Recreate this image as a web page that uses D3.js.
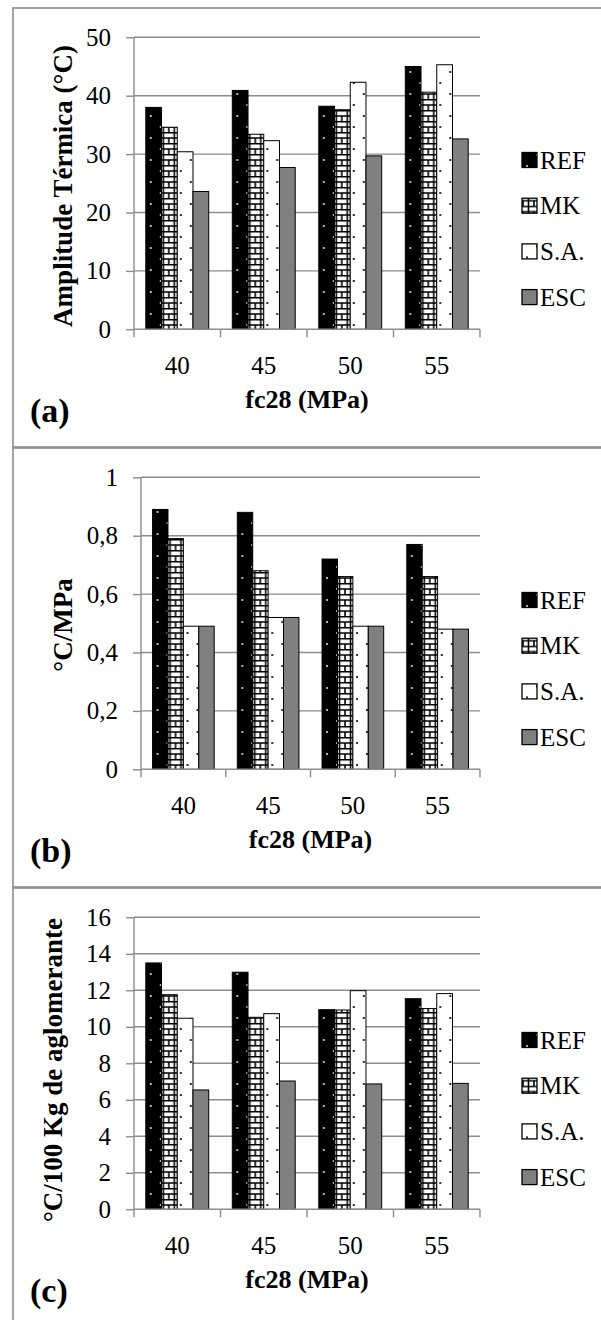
<!DOCTYPE html>
<html>
<head>
<meta charset="utf-8">
<title>Amplitude térmica</title>
<script src="https://d3js.org/d3.v7.min.js"></script>
<style>
body {
	margin: 0;
	background-color: white;
}
svg {
	display: block;
	font-family: "Liberation Serif", "Times New Roman", serif;
}
.grid line, .axis path, .axis line {
	stroke: #8c8c8c;
	stroke-width: 1.4;
}
.bar {
	stroke: #000;
	stroke-width: 1;
}
.title {
	font-weight: bold;
	fill: #000;
}
.frame {
	fill: none;
	stroke: #8c8c8c;
	stroke-width: 1.6;
}
</style>
</head>
<body>
<script>
// values
const categories = ["40", "45", "50", "55"];
const series = ["REF", "MK", "S.A.", "ESC"];

const amplitude = [
	[38.0, 34.6, 30.4, 23.6],
	[40.9, 33.4, 32.3, 27.7],
	[38.2, 37.6, 42.3, 29.7],
	[45.0, 40.6, 45.3, 32.6],
];
const perMPa = [
	[0.89, 0.79, 0.49, 0.49],
	[0.88, 0.68, 0.52, 0.52],
	[0.72, 0.66, 0.49, 0.49],
	[0.77, 0.66, 0.48, 0.48],
];
const perBinder = [
	[13.5, 11.76, 10.47, 6.54],
	[12.99, 10.52, 10.72, 7.03],
	[10.94, 10.92, 11.98, 6.87],
	[11.54, 11.0, 11.82, 6.9],
];

const ticksA = [0, 10, 20, 30, 40, 50];
const ticksB = [0, 0.2, 0.4, 0.6, 0.8, 1];
const ticksC = [0, 2, 4, 6, 8, 10, 12, 14, 16];

const fills = ["url(#refPat)", "url(#mkPat)", "url(#saPat)", "url(#escPat)"];
const serif = "'Liberation Serif', 'Times New Roman', serif";

const svg = d3.select("body").append("svg")
	.attr("width", 601)
	.attr("height", 1320);

const defs = svg.append("defs");

function dotPattern(id, bg, dot)
{
	const p = defs.append("pattern")
		.attr("id", id)
		.attr("patternUnits", "userSpaceOnUse")
		.attr("width", 20)
		.attr("height", 22);
	p.append("rect").attr("width", 20).attr("height", 22).attr("fill", bg);
	p.append("circle").attr("cx", 5).attr("cy", 6).attr("r", 1.1).attr("fill", dot);
	p.append("circle").attr("cx", 15).attr("cy", 17).attr("r", 1.1).attr("fill", dot);
}
dotPattern("refPat", "#000", "#ddd");
dotPattern("saPat", "#fff", "#000");

const mk = defs.append("pattern")
	.attr("id", "mkPat")
	.attr("patternUnits", "userSpaceOnUse")
	.attr("width", 11)
	.attr("height", 11);
mk.append("rect").attr("width", 11).attr("height", 11).attr("fill", "#fff");
mk.append("path")
	.attr("d", "M0,0.8H11M0,6H11M1,6V11M6.5,0V11")
	.attr("stroke", "#000")
	.attr("stroke-width", 1.6);

const esc = defs.append("pattern")
	.attr("id", "escPat")
	.attr("patternUnits", "userSpaceOnUse")
	.attr("width", 10)
	.attr("height", 10);
esc.append("rect").attr("width", 10).attr("height", 10).attr("fill", "#808080");

function styleTicks(s)
{
	s.attr("font-family", null).attr("font-size", null);
	s.selectAll("text")
		.style("font-family", serif)
		.style("font-size", "25px")
		.style("fill", "#000");
}

function drawPanel(oy, opt)
{
	const g = svg.append("g").attr("transform", "translate(0," + oy + ")");

	g.append("rect")
		.attr("class", "frame")
		.attr("x", 13)
		.attr("y", 8)
		.attr("width", 620)
		.attr("height", 439);

	const left = opt.left, right = 480, top = 37.3, bottom = 329.3;

	const x0 = d3.scaleBand()
		.domain(categories)
		.range([left, right])
		.paddingInner(0.2727)
		.paddingOuter(0.1364);
	const x1 = d3.scaleBand()
		.domain(series)
		.range([0, x0.bandwidth()]);
	const y = d3.scaleLinear()
		.domain([0, d3.max(opt.ticks)])
		.range([bottom, top]);

	// gridlines
	g.append("g")
		.attr("class", "grid")
		.selectAll("line")
		.data(opt.ticks.slice(1))
		.join("line")
		.attr("x1", left)
		.attr("x2", right)
		.attr("y1", d => y(d))
		.attr("y2", d => y(d));

	const yAxis = d3.axisLeft(y)
		.tickValues(opt.ticks)
		.tickSize(8)
		.tickPadding(15)
		.tickFormat(opt.format);
	g.append("g")
		.attr("class", "axis")
		.attr("transform", "translate(" + left + ",0)")
		.call(yAxis)
		.call(styleTicks)
		.call(s => s.select(".domain").attr("d", "M0," + top + "V" + bottom));

	// bars
	g.append("g")
		.selectAll("g")
		.data(opt.values)
		.join("g")
		.attr("transform", (d, i) => "translate(" + x0(categories[i]) + ",0)")
		.selectAll("rect")
		.data(d => d)
		.join("rect")
		.attr("class", "bar")
		.attr("x", (d, j) => x1(series[j]))
		.attr("width", x1.bandwidth())
		.attr("y", d => y(d))
		.attr("height", d => y(0) - y(d))
		.attr("fill", (d, j) => fills[j]);

	// x axis: labels centred, ticks on category boundaries
	const xAxis = d3.axisBottom(x0).tickSize(0).tickPadding(27);
	g.append("g")
		.attr("class", "axis")
		.attr("transform", "translate(0," + bottom + ")")
		.call(xAxis)
		.call(styleTicks)
		.call(s => s.select(".domain").attr("d", "M" + left + ",0H" + right));

	const half = (x0.step() - x0.bandwidth()) / 2;
	const bounds = categories.map(c => x0(c) - half).concat([x0(categories[3]) + x0.bandwidth() + half]);
	g.append("g")
		.attr("class", "axis")
		.selectAll("line")
		.data(bounds)
		.join("line")
		.attr("x1", d => d)
		.attr("x2", d => d)
		.attr("y1", bottom)
		.attr("y2", bottom + 8);

	// axis titles
	g.append("text")
		.attr("class", "title")
		.attr("transform", "translate(" + opt.titleX + "," + opt.titleY + ") rotate(-90)")
		.attr("text-anchor", "middle")
		.attr("dy", "0.35em")
		.style("font-size", "27px")
		.text(opt.title);
	g.append("text")
		.attr("class", "title")
		.attr("x", (left + right) / 2)
		.attr("y", 408)
		.attr("text-anchor", "middle")
		.style("font-size", "26px")
		.text("fc28 (MPa)");
	g.append("text")
		.attr("class", "title")
		.attr("x", 30)
		.attr("y", 422)
		.style("font-size", "34px")
		.text(opt.tag);

	// legend
	const legend = g.append("g")
		.selectAll("g")
		.data(series)
		.join("g")
		.attr("transform", (d, i) => "translate(522," + (160 + i * 45.7) + ")");
	legend.append("rect")
		.attr("x", 0)
		.attr("y", -7.5)
		.attr("width", 15)
		.attr("height", 15)
		.attr("fill", (d, i) => fills[i])
		.attr("stroke", "#000")
		.attr("stroke-width", 1.3);
	legend.append("text")
		.attr("x", 18)
		.attr("dy", "0.35em")
		.style("font-family", serif)
		.style("font-size", "25px")
		.text(d => d);
}

const comma = d => String(d).replace(".", ",");

drawPanel(0, {values: amplitude, ticks: ticksA, format: d3.format("d"), left: 134,
	title: "Amplitude Térmica (°C)", titleX: 63, titleY: 186, tag: "(a)"});
drawPanel(440, {values: perMPa, ticks: ticksB, format: comma, left: 141,
	title: "°C/MPa", titleX: 63, titleY: 185, tag: "(b)"});
drawPanel(880, {values: perBinder, ticks: ticksC, format: d3.format("d"), left: 134,
	title: "°C/100 Kg de aglomerante", titleX: 53, titleY: 190, tag: "(c)"});
</script>
</body>
</html>
